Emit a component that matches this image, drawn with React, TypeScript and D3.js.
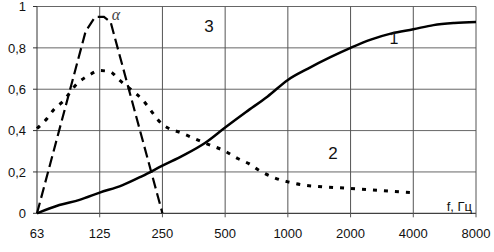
import React from "react";
import * as d3 from "d3";

const xTickValues = [62.5, 125, 250, 500, 1000, 2000, 4000, 8000];
const xTickLabels = ["63", "125", "250", "500", "1000", "2000", "4000", "8000"];
const yTickValues = [0, 0.2, 0.4, 0.6, 0.8, 1];
const yTickLabels = ["0", "0,2", "0,4", "0,6", "0,8", "1"];

// curve 1 (solid)
const freq1 = [62.5, 80, 100, 125, 160, 200, 250, 315, 400, 500, 630, 800, 1000, 1250, 1600, 2000, 2500, 3150, 4000, 5000, 6300, 8000];
const val1 = [0, 0.04, 0.065, 0.1, 0.135, 0.18, 0.23, 0.28, 0.34, 0.415, 0.49, 0.565, 0.645, 0.7, 0.755, 0.8, 0.84, 0.87, 0.89, 0.91, 0.92, 0.925];

// curve 2 (dotted)
const freq2 = [62.5, 70, 75, 83, 98, 110, 125, 140, 155, 200, 250, 315, 400, 500, 575, 650, 735, 845, 1000, 1200, 1400, 2000, 2800, 4000];
const val2 = [0.41, 0.46, 0.5, 0.54, 0.63, 0.665, 0.69, 0.685, 0.645, 0.55, 0.43, 0.385, 0.34, 0.3, 0.265, 0.24, 0.205, 0.175, 0.152, 0.136, 0.13, 0.12, 0.11, 0.1];

// curve alpha (dashed)
const freqA = [62.5, 107, 117, 120, 131, 141, 250];
const valA = [0, 0.88, 0.94, 0.95, 0.95, 0.925, 0];

const W = 494;
const H = 252;
const left = 37;
const right = 476;
const top = 6.5;
const bottom = 213.3;

export default function App() {
  const x = d3.scaleLog().base(2).domain([62.5, 8000]).range([left, right]);
  const y = d3.scaleLinear().domain([0, 1]).range([bottom, top]);

  const mk = (fs: number[], vs: number[]) => fs.map((f, i) => [f, vs[i]] as [number, number]);
  const smooth = d3
    .line<[number, number]>()
    .x((d) => x(d[0]))
    .y((d) => y(d[1]))
    .curve(d3.curveMonotoneX);
  const straight = d3
    .line<[number, number]>()
    .x((d) => x(d[0]))
    .y((d) => y(d[1]));

  const font = "'Liberation Sans', Arial, sans-serif";

  return (
    <div style={{ position: "fixed", left: 0, top: 0 }}>
      <svg width={W} height={H} style={{ display: "block", background: "#fff" }}>
        {yTickValues.map((v, i) => (
          <line key={"h" + i} x1={left} x2={right} y1={y(v)} y2={y(v)} stroke={v === 0 ? "#111" : "#666"} strokeWidth={1} />
        ))}
        {xTickValues.map((v, i) => (
          <line key={"v" + i} x1={x(v)} x2={x(v)} y1={top} y2={bottom + (i === 0 ? 0 : 4)} stroke={i === 0 ? "#333" : "#555"} strokeWidth={1} />
        ))}
        {yTickValues.map((v, i) => (
          <line key={"yt" + i} x1={left - 4} x2={left} y1={y(v)} y2={y(v)} stroke="#333" />
        ))}
        {yTickValues.map((v, i) => (
          <text key={"yl" + i} x={26} y={y(v)} dy="0.36em" textAnchor="end" fontFamily={font} fontSize={13} fill="#111">
            {yTickLabels[i]}
          </text>
        ))}
        {xTickValues.map((v, i) => (
          <text key={"xl" + i} x={x(v)} y={238} textAnchor="middle" fontFamily={font} fontSize={13} fill="#111">
            {xTickLabels[i]}
          </text>
        ))}

        <path d={smooth(mk(freq1, val1)) || ""} fill="none" stroke="#000" strokeWidth={2.5} />
        <path d={smooth(mk(freq2, val2)) || ""} fill="none" stroke="#000" strokeWidth={3} strokeDasharray="4,7" />
        <path d={straight(mk(freqA, valA)) || ""} fill="none" stroke="#000" strokeWidth={2.2} strokeDasharray="11,5" />

        <text x={209} y={32} textAnchor="middle" fontFamily={font} fontSize={17} fill="#111">3</text>
        <text x={333} y={159} textAnchor="middle" fontFamily={font} fontSize={17} fill="#111">2</text>
        <text x={394} y={44} textAnchor="middle" fontFamily={font} fontSize={16} fill="#111">1</text>
        <text x={116} y={20} textAnchor="middle" fontFamily="'Liberation Serif', serif" fontStyle="italic" fontSize={16} fill="#444">α</text>
        <text x={472} y={211} textAnchor="end" fontFamily={font} fontSize={13} fill="#111">f, Гц</text>
      </svg>
    </div>
  );
}
